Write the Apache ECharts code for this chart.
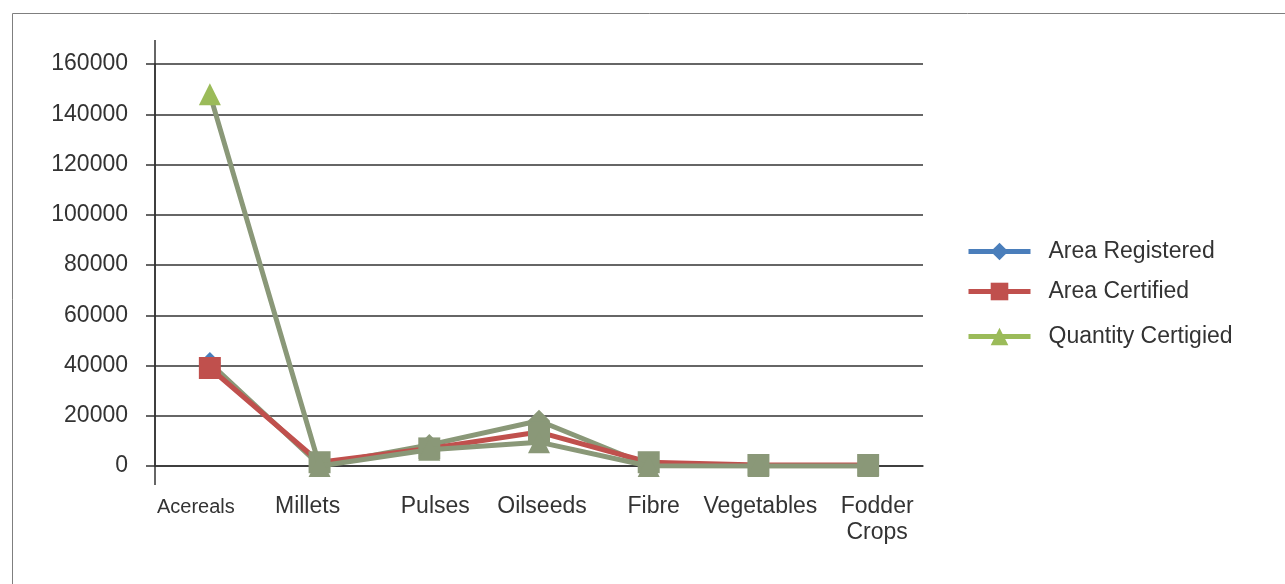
<!DOCTYPE html>
<html>
<head>
<meta charset="utf-8">
<script src="https://cdn.jsdelivr.net/npm/echarts@6/dist/echarts.min.js"></script>
<style>
  html, body { margin: 0; padding: 0; background: #fff; }
  #main { width: 1285px; height: 584px; }
</style>
</head>
<body>
<div id="main"></div>
<script>
const categories = ['Acereals', 'Millets', 'Pulses', 'Oilseeds', 'Fibre', 'Vegetables', 'Fodder\nCrops']
const areaRegistered = [41000, 300, 8400, 18000, 200, 0, 0]
const areaCertified = [39000, 1500, 7000, 13500, 1500, 400, 400]
const quantityCertified = [148000, 0, 6500, 9500, 0, 0, 0]
const seriesNames = ['Area Registered', 'Area Certified', 'Quantity Certigied']

const chart = echarts.init(document.getElementById('main'))

const shadowGreen = '#8a9878'
const colors = ['#4a7ebb', '#c0504d', '#9bbb59']
const symbols = ['diamond', 'rect', 'triangle']
const symbolSizes = [22, 22, 22]
const lineColors = [shadowGreen, '#c0504d', shadowGreen]
// small horizontal nudges of the category labels, px
const labelShift = [-14, -12, 6, 3, 5, 2, 9]

// first point keeps its own colour, the rest look covered by the grey-green shade
function buildData (arr, idx) {
  return arr.map((v, i) => ({
    value: v,
    itemStyle: { color: i === 0 ? colors[idx] : shadowGreen }
  }))
}

const allSeries = [areaRegistered, areaCertified, quantityCertified].map((arr, idx) => ({
  type: 'line',
  name: seriesNames[idx],
  data: buildData(arr, idx),
  symbol: symbols[idx],
  symbolSize: symbolSizes[idx],
  itemStyle: { color: colors[idx] },
  lineStyle: { color: lineColors[idx], width: 5 },
  z: 3 + idx
}))

const legendTops = [235, 275, 320]
const legends = seriesNames.map((n, i) => ({
  left: 961,
  top: legendTops[i],
  orient: 'vertical',
  itemWidth: 62,
  itemHeight: 22,
  textStyle: { fontFamily: 'Liberation Sans', fontSize: 23, color: '#333', padding: [0, 0, 0, 13] },
  data: [{
    name: n,
    itemStyle: { color: colors[i] },
    lineStyle: { color: colors[i], width: 5 }
  }]
}))

const xData = categories.map((c, i) => {
  const d = labelShift[i]
  const ts = { padding: d >= 0 ? [0, 0, 0, 2 * d] : [0, -2 * d, 0, 0] }
  if (i === 0) ts.fontSize = 20
  return { value: c, textStyle: ts }
})

const option = {
  backgroundColor: '#fff',
  animation: false,
  legend: legends,
  grid: { left: 155, right: 362, top: 64, bottom: 118 },
  xAxis: {
    type: 'category',
    boundaryGap: true,
    data: xData,
    axisLine: { lineStyle: { color: '#333', width: 1.5 } },
    axisTick: { show: false },
    axisLabel: {
      fontFamily: 'Liberation Sans',
      fontSize: 23,
      color: '#333',
      margin: 28,
      lineHeight: 26,
      interval: 0
    }
  },
  yAxis: {
    type: 'value',
    min: 0,
    max: 160000,
    interval: 20000,
    axisLine: { show: true, lineStyle: { color: '#333', width: 1.5 } },
    axisTick: { show: true, length: 9, lineStyle: { color: '#333', width: 1.5 } },
    splitLine: { lineStyle: { color: '#333', width: 1.5 } },
    axisLabel: {
      fontFamily: 'Liberation Sans',
      fontSize: 23,
      color: '#333',
      margin: 27,
      formatter: v => String(v)
    }
  },
  graphic: [
    {
      type: 'rect',
      shape: { x: 12.5, y: 13.5, width: 1300, height: 620 },
      style: { fill: null, stroke: '#7f7f7f', lineWidth: 1 },
      silent: true
    },
    {
      type: 'line',
      shape: { x1: 155, y1: 40, x2: 155, y2: 485 },
      style: { stroke: '#333', lineWidth: 1.5 },
      silent: true
    }
  ],
  series: allSeries
}

chart.setOption(option)
</script>
</body>
</html>
